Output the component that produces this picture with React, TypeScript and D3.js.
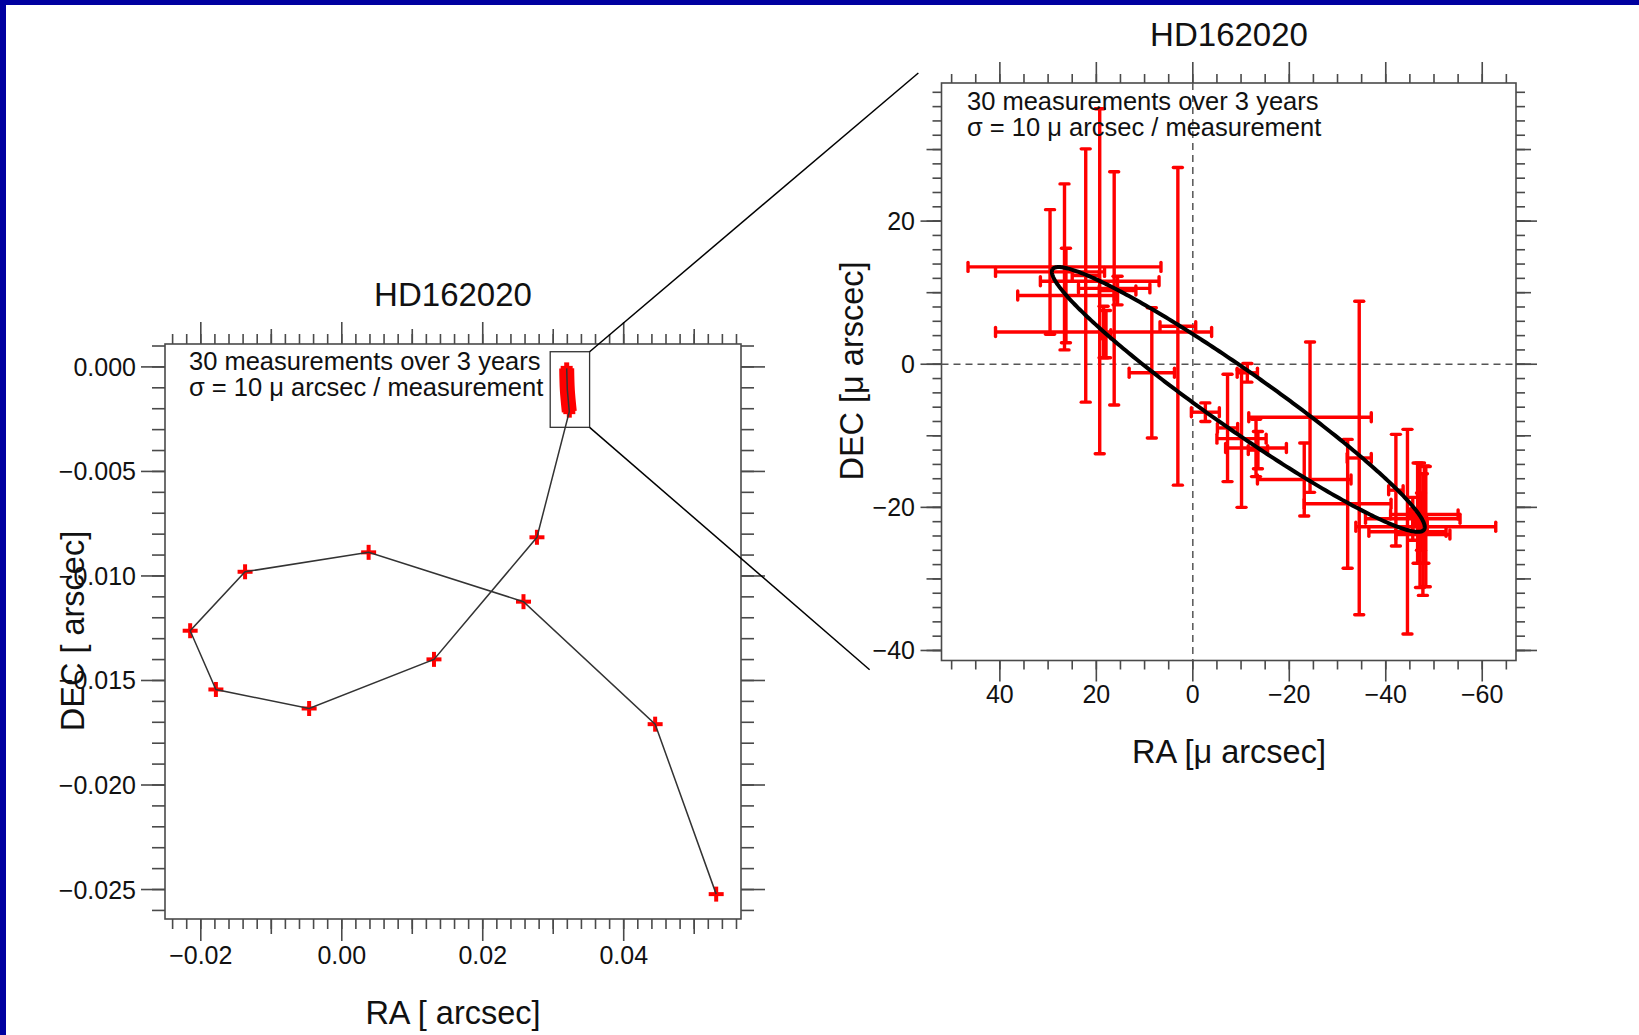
import React, { useRef, useEffect } from 'react';
import * as d3 from 'd3';

// ---- left panel: path of the star on the sky [arcsec] ----
const pathRA = [0.05312, 0.04446, 0.02578, 0.00381, -0.01372, -0.02151, -0.01786, -0.00463, 0.01308, 0.02769];
const pathDEC = [-0.02522, -0.01709, -0.01123, -0.00887, -0.0098, -0.01262, -0.01543, -0.01634, -0.01399, -0.00815];
// the 30 measurements, seen at this scale (bottom -> top)
const clusterRA = [0.03228, 0.032, 0.03191];
const clusterDEC = [-0.00214, -0.0011, -0.00007];
const zoomBoxRA = [0.02957, 0.03516];
const zoomBoxDEC = [0.000727, -0.00289];

// ---- right panel: the measurements [micro arcsec] ----
const measRA = [29.6, 26.6, 26.3, 22.2, 19.3, 16.3, 15.6, 18.5, 8.5, 3.1, -2.6, -10.1, -13.1, -7.2, -11.3,
  -24.3, -23.1, -34.5, -32.1, -42.1, -44.5, -48.3, -45.6, -47.7, -46.6, -47.3, 18.0, -13.5, -47.1, -48.0];
const measDEC = [12.9, 13.6, 9.6, 12.4, 11.6, 10.6, 10.3, 4.5, -1.2, 5.3, -6.7, -10.4, -11.7, -8.9, -1.2,
  -7.4, -16.1, -13.1, -19.5, -17.6, -23.4, -22.7, -21.6, -23.8, -20.8, -22.0, 4.2, -12.0, -22.5, -21.0];
const errRA = [11.3, 20.0, 10.0, 2.8, 12.3, 7.4, 3.8, 22.4, 4.7, 3.7, 2.9, 5.1, 6.3, 2.1, 2.1,
  12.7, 9.7, 2.5, 9.0, 1.5, 8.0, 14.5, 9.8, 5.6, 1.5, 1.2, 1.0, 2.0, 1.5, 7.0];
const errDEC = [8.7, 11.6, 6.6, 17.7, 24.1, 16.3, 2.0, 3.6, 9.1, 22.2, 1.3, 9.6, 4.0, 7.5, 1.3,
  10.5, 5.1, 21.9, 9.0, 7.8, 14.3, 8.4, 3.0, 8.5, 7.0, 4.0, 3.3, 2.6, 8.7, 6.8];

// fitted orbit: centre and two conjugate semi-diameters [micro arcsec]
const orbitCentre = [-9.43, -4.92];
const orbitAxisA = [38.5, 18.2];
const orbitAxisB = [3.45, -3.32];

// where the zoom connectors end, in right-panel units
const connectorRA = [56.9, 67.0];
const connectorDEC = [40.7, -42.7];

const leftXTicks = [-0.02, 0, 0.02, 0.04];
const leftXLabels = ['−0.02', '0.00', '0.02', '0.04'];
const leftYTicks = [0, -0.005, -0.01, -0.015, -0.02, -0.025];
const leftYLabels = ['0.000', '−0.005', '−0.010', '−0.015', '−0.020', '−0.025'];
const rightXTicks = [40, 20, 0, -20, -40, -60];
const rightXLabels = ['40', '20', '0', '−20', '−40', '−60'];
const rightYTicks = [20, 0, -20, -40];
const rightYLabels = ['20', '0', '−20', '−40'];

const FONT = '"Liberation Sans", Arial, Helvetica, sans-serif';
const AXIS = '#4a4a4a';
const RED = '#ff0000';

function frameTicks(g, x, y, xt, yt) {
  const [l, r] = x.range();
  const [t, b] = y.range();
  g.append('rect').attr('x', l).attr('y', t).attr('width', r - l).attr('height', b - t)
    .attr('fill', 'none').attr('stroke', AXIS).attr('stroke-width', 1.6);
  xt.forEach(([vals, len]) => vals.forEach(v => {
    const px = x(v);
    g.append('line').attr('x1', px).attr('x2', px).attr('y1', b).attr('y2', b + len);
    g.append('line').attr('x1', px).attr('x2', px).attr('y1', t).attr('y2', t - len);
  }));
  yt.forEach(([vals, len]) => vals.forEach(v => {
    const py = y(v);
    g.append('line').attr('y1', py).attr('y2', py).attr('x1', l).attr('x2', l - len);
    g.append('line').attr('y1', py).attr('y2', py).attr('x1', r).attr('x2', r + len);
  }));
  g.selectAll('line').attr('stroke', AXIS).attr('stroke-width', 1.6);
}

function plusMarks(g, pts, arm, width) {
  pts.forEach(([px, py]) => {
    g.append('line').attr('x1', px - arm).attr('x2', px + arm).attr('y1', py).attr('y2', py)
      .attr('stroke', RED).attr('stroke-width', width);
    g.append('line').attr('x1', px).attr('x2', px).attr('y1', py - arm).attr('y2', py + arm)
      .attr('stroke', RED).attr('stroke-width', width);
  });
}

const App = () => {
  const ref = useRef(null);

  useEffect(() => {
    const svg = d3.select(ref.current);
    svg.selectAll('*').remove();

    svg.append('rect').attr('width', 1639).attr('height', 1035).attr('fill', '#fff');
    svg.append('rect').attr('width', 1639).attr('height', 5).attr('fill', '#0000a0');
    svg.append('rect').attr('width', 6).attr('height', 1035).attr('fill', '#0000a0');

    // ---------------- left panel ----------------
    const xL = d3.scaleLinear().domain([-0.02508, 0.05664]).range([165, 741]);
    const yL = d3.scaleLinear().domain([0.001096, -0.02641]).range([344, 919]);
    const gL = svg.append('g');
    const gLt = gL.append('g');
    frameTicks(gLt, xL, yL,
      [[d3.range(-12, 29).map(i => i * 0.002), 10],
       [[-0.01, 0.01, 0.03, 0.05], 15],
       [leftXTicks, 22]],
      [[d3.range(-26, 2).map(i => i * 0.001), 13],
       [leftYTicks, 24]]);

    // measurement cluster as a thick red band
    const clusterPts = clusterRA.map((v, i) => [xL(v), yL(clusterDEC[i])]);
    gL.append('path').attr('d', d3.line().curve(d3.curveCatmullRom)(clusterPts))
      .attr('fill', 'none').attr('stroke', RED).attr('stroke-width', 15);
    plusMarks(gL, [clusterPts[0], clusterPts[clusterPts.length - 1]], 6, 5);

    const pathPts = pathRA.map((v, i) => [xL(v), yL(pathDEC[i])]);
    plusMarks(gL, pathPts, 7.5, 4);
    gL.append('path').attr('d', d3.line()([...pathPts, ...clusterPts]))
      .attr('fill', 'none').attr('stroke', '#333').attr('stroke-width', 1.5);

    gL.append('rect')
      .attr('x', xL(zoomBoxRA[0])).attr('y', yL(zoomBoxDEC[0]))
      .attr('width', xL(zoomBoxRA[1]) - xL(zoomBoxRA[0]))
      .attr('height', yL(zoomBoxDEC[1]) - yL(zoomBoxDEC[0]))
      .attr('fill', 'none').attr('stroke', '#333').attr('stroke-width', 1.3);

    gL.selectAll('.xl').data(leftXTicks).join('text')
      .attr('x', d => xL(d)).attr('y', 964).attr('text-anchor', 'middle')
      .attr('font-size', 25).text((d, i) => leftXLabels[i]);
    gL.selectAll('.yl').data(leftYTicks).join('text')
      .attr('x', 136).attr('y', d => yL(d)).attr('dy', '0.36em').attr('text-anchor', 'end')
      .attr('font-size', 25).text((d, i) => leftYLabels[i]);
    gL.append('text').attr('x', 453).attr('y', 306).attr('text-anchor', 'middle')
      .attr('font-size', 33).text('HD162020');
    gL.append('text').attr('x', 453).attr('y', 1024).attr('text-anchor', 'middle')
      .attr('font-size', 32.5).text('RA [ arcsec]');
    gL.append('text').attr('transform', 'translate(84,631) rotate(-90)').attr('text-anchor', 'middle')
      .attr('font-size', 32.5).text('DEC [ arscec]');
    gL.append('text').attr('x', 189).attr('y', 370).attr('font-size', 25.5).text('30 measurements over 3 years');
    gL.append('text').attr('x', 189).attr('y', 396).attr('font-size', 25.5).text('σ = 10 μ arcsec / measurement');

    // ---------------- right panel ----------------
    const xR = d3.scaleLinear().domain([52.1, -67.0]).range([941.5, 1516]);
    const yR = d3.scaleLinear().domain([39.3, -41.4]).range([83, 660.5]);
    const gR = svg.append('g');
    const gRt = gR.append('g');
    frameTicks(gRt, xR, yR,
      [[d3.range(-13, 11).map(i => i * 5), 9],
       [rightXTicks, 21]],
      [[d3.range(-20, 20).map(i => i * 2), 9],
       [d3.range(-4, 4).map(i => i * 10), 15],
       [rightYTicks, 21]]);

    gR.append('line').attr('x1', xR(0)).attr('x2', xR(0)).attr('y1', 83).attr('y2', 660.5)
      .attr('stroke', '#555').attr('stroke-width', 1.5).attr('stroke-dasharray', '7,5');
    gR.append('line').attr('x1', 941.5).attr('x2', 1516).attr('y1', yR(0)).attr('y2', yR(0))
      .attr('stroke', '#555').attr('stroke-width', 1.5).attr('stroke-dasharray', '7,5');

    const gE = gR.append('g').attr('stroke', RED).attr('stroke-width', 3.4);
    const cap = 4.5;
    measRA.forEach((ra, i) => {
      const cx = xR(ra), cy = yR(measDEC[i]);
      const xa = xR(ra + errRA[i]), xb = xR(ra - errRA[i]);
      const ya = yR(measDEC[i] + errDEC[i]), yb = yR(measDEC[i] - errDEC[i]);
      gE.append('line').attr('x1', xa).attr('x2', xb).attr('y1', cy).attr('y2', cy);
      gE.append('line').attr('x1', cx).attr('x2', cx).attr('y1', ya).attr('y2', yb);
      [xa, xb].forEach(px => gE.append('line').attr('x1', px).attr('x2', px)
        .attr('y1', cy - cap).attr('y2', cy + cap).attr('stroke-linecap', 'round'));
      [ya, yb].forEach(py => gE.append('line').attr('y1', py).attr('y2', py)
        .attr('x1', cx - cap).attr('x2', cx + cap).attr('stroke-linecap', 'round'));
    });

    const ts = d3.range(0, 2 * Math.PI + 0.01, Math.PI / 180);
    const orbit = ts.map(t => [
      xR(orbitCentre[0] + orbitAxisA[0] * Math.cos(t) + orbitAxisB[0] * Math.sin(t)),
      yR(orbitCentre[1] + orbitAxisA[1] * Math.cos(t) + orbitAxisB[1] * Math.sin(t))
    ]);
    gR.append('path').attr('d', d3.line()(orbit)).attr('fill', 'none')
      .attr('stroke', '#000').attr('stroke-width', 4);

    gR.selectAll('.xr').data(rightXTicks).join('text')
      .attr('x', d => xR(d)).attr('y', 703).attr('text-anchor', 'middle')
      .attr('font-size', 25).text((d, i) => rightXLabels[i]);
    gR.selectAll('.yr').data(rightYTicks).join('text')
      .attr('x', 915).attr('y', d => yR(d)).attr('dy', '0.36em').attr('text-anchor', 'end')
      .attr('font-size', 25).text((d, i) => rightYLabels[i]);
    gR.append('text').attr('x', 1229).attr('y', 46).attr('text-anchor', 'middle')
      .attr('font-size', 33).text('HD162020');
    gR.append('text').attr('x', 1229).attr('y', 763).attr('text-anchor', 'middle')
      .attr('font-size', 32.5).text('RA [μ arcsec]');
    gR.append('text').attr('transform', 'translate(863,371) rotate(-90)').attr('text-anchor', 'middle')
      .attr('font-size', 32.5).text('DEC [μ arscec]');
    gR.append('text').attr('x', 967).attr('y', 110).attr('font-size', 25.5).text('30 measurements over 3 years');
    gR.append('text').attr('x', 967).attr('y', 136).attr('font-size', 25.5).text('σ = 10 μ arcsec / measurement');

    // zoom connectors
    const bx = xL(zoomBoxRA[1]);
    [[yL(zoomBoxDEC[0]), 0], [yL(zoomBoxDEC[1]), 1]].forEach(([by, k]) => {
      svg.append('line').attr('x1', bx).attr('y1', by)
        .attr('x2', xR(connectorRA[k])).attr('y2', yR(connectorDEC[k]))
        .attr('stroke', '#000').attr('stroke-width', 1.5);
    });

    svg.selectAll('text').attr('font-family', FONT).attr('fill', '#111');
  }, []);

  return (
    <svg ref={ref} width={1639} height={1035}
      style={{ position: 'absolute', left: 0, top: 0, display: 'block' }} />
  );
};

export default App;
